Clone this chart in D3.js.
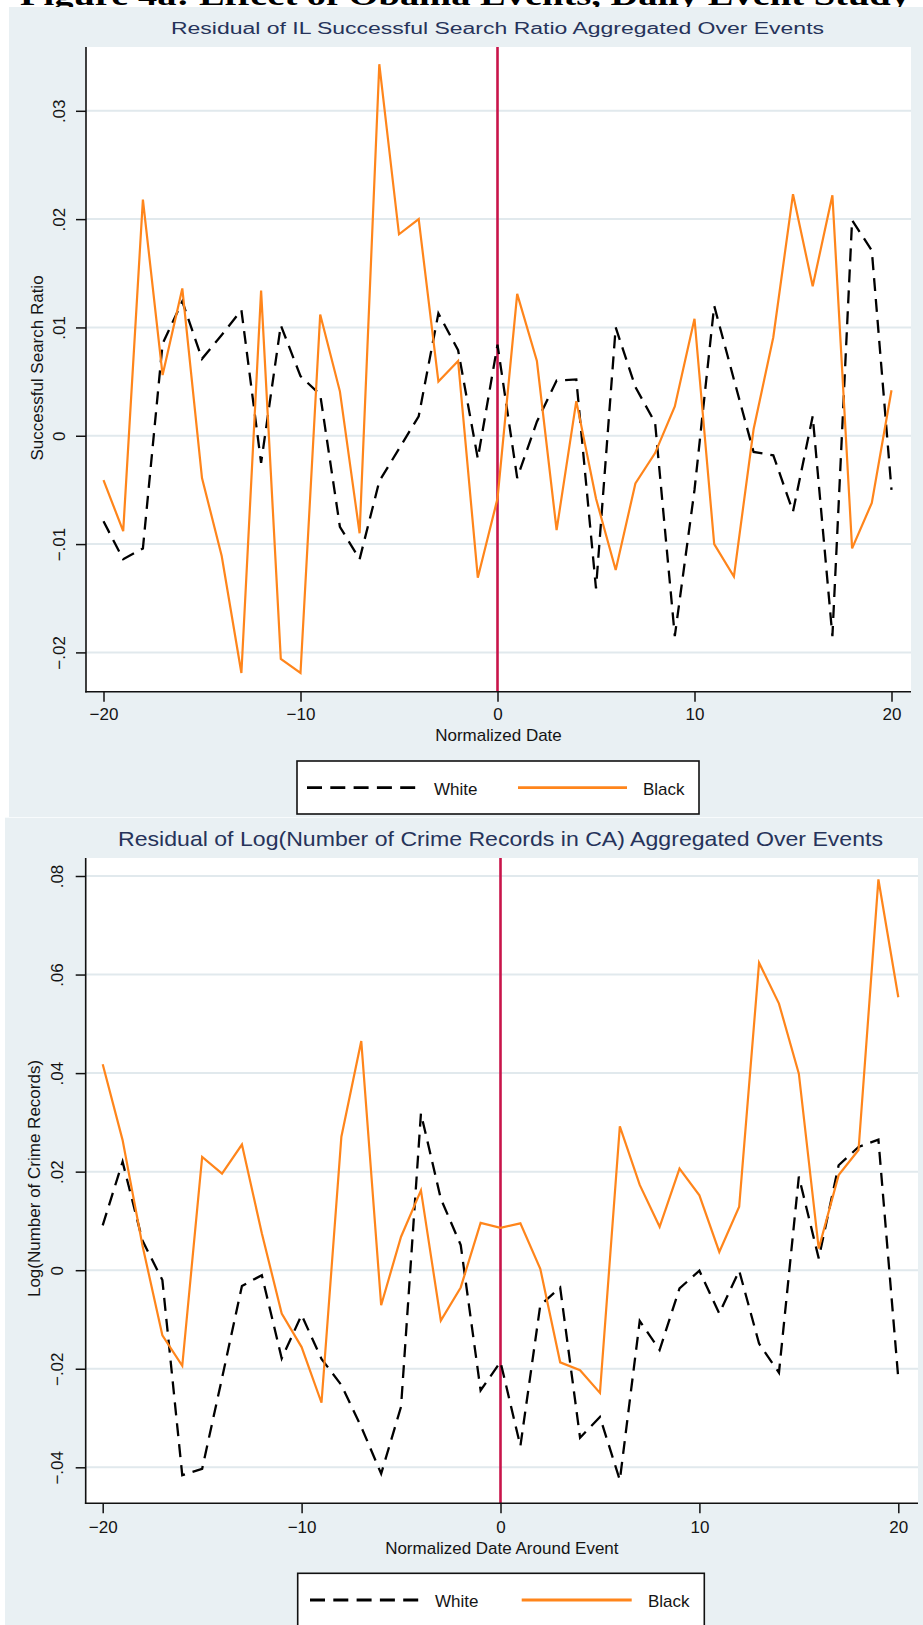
<!DOCTYPE html>
<html>
<head>
<meta charset="utf-8">
<script src="https://cdn.jsdelivr.net/npm/d3@7"></script>
<style>
	html, body { margin: 0; padding: 0; background: #fff; }
	svg { display: block; font-family: 'Liberation Sans', Arial, sans-serif; }
</style>
</head>
<body>
<svg id="chart" width="923" height="1625"></svg>
<script>
// ---- data ----
const days = d3.range(-20, 21);

const searchWhite = [
	-0.0079, -0.0114, -0.0104, 0.0085, 0.0124, 0.0071, 0.0093, 0.0116, -0.0025, 0.0102,
	0.0055, 0.0038, -0.0084, -0.0114, -0.0042, -0.0012, 0.0018, 0.0113, 0.0079, -0.0021,
	0.0084,
	-0.0039, 0.0013, 0.0051, 0.0052, -0.0141, 0.0100, 0.0045, 0.0012, -0.0185, -0.0050,
	0.0120, 0.0052, -0.0015, -0.0018, -0.0070, 0.0018, -0.0185, 0.0199, 0.0171, -0.0050,
];
const searchBlack = [
	-0.0041, -0.0088, 0.0218, 0.0056, 0.0136, -0.0039, -0.0111, -0.0219, 0.0134, -0.0206,
	-0.0219, 0.0112, 0.0041, -0.0090, 0.0343, 0.0186, 0.0200, 0.0050, 0.0069, -0.0131,
	-0.0058,
	0.0131, 0.0069, -0.0087, 0.0032, -0.0058, -0.0124, -0.0044, -0.0016, 0.0027, 0.0108,
	-0.0100, -0.0130, 0.0006, 0.0091, 0.0223, 0.0138, 0.0222, -0.0104, -0.0062, 0.0042,
];
const crimeWhite = [
	0.0091, 0.0220, 0.0060, -0.0020, -0.0416, -0.0403, -0.0219, -0.0032, -0.0010, -0.0179,
	-0.0091, -0.0180, -0.0233, -0.0318, -0.0413, -0.0277, 0.0318, 0.0145, 0.0051, -0.0244,
	-0.0186,
	-0.0357, -0.0071, -0.0035, -0.0340, -0.0298, -0.0426, -0.0103, -0.0162, -0.0037, -0.0001,
	-0.0088, -0.0001, -0.0149, -0.0208, 0.0190, 0.0024, 0.0213, 0.0250, 0.0265, -0.0220,
];
const crimeBlack = [
	0.0418, 0.0264, 0.0050, -0.0132, -0.0194, 0.0230, 0.0196, 0.0255, 0.0075, -0.0088,
	-0.0156, -0.0269, 0.0271, 0.0465, -0.0071, 0.0068, 0.0162, -0.0102, -0.0035, 0.0096,
	0.0086,
	0.0095, 0.0003, -0.0187, -0.0203, -0.0249, 0.0292, 0.0173, 0.0088, 0.0206, 0.0152,
	0.0037, 0.0129, 0.0624, 0.0541, 0.0399, 0.0044, 0.0193, 0.0244, 0.0793, 0.0554,
];

const dayTicks = [-20, -10, 0, 10, 20];
const searchTicks = [-0.02, -0.01, 0, 0.01, 0.02, 0.03];
const crimeTicks = [-0.04, -0.02, 0, 0.02, 0.04, 0.06, 0.08];
const seriesNames = ['White', 'Black'];

// ---- look ----
const theme = {
	bg: '#e9f0f3',
	grid: '#e1e9ed',
	orange: '#ff851b',
	red: '#c8144a',
	title: '#26335a',
	text: '#141414',
	axis: '#111',
};

// stata style labels: no leading zero
const fmtValue = (v) => (v === 0 ? '0' : d3.format('.2f')(v).replace('0.', '.'));

const panels = [
	{
		title: 'Residual of IL Successful Search Ratio Aggregated Over Events',
		titleX: 497.5, titleY: 34, titleSize: 16, titleLen: 653,
		bg: { x: 9, y: 7, w: 914, h: 810 },
		plot: { left: 86, right: 911, top: 47, bottom: 691.7 },
		xRange: [103.5, 891.5],
		yRange: [652.4, 110.8],
		yTicks: searchTicks,
		yTitle: 'Successful Search Ratio', yTitleX: 43, yTitleY: 368,
		yLabelGap: 21,
		xTitle: 'Normalized Date', xTitleY: 740.7,
		xLabelY: 720,
		white: searchWhite, black: searchBlack,
		legend: { x: 297, y: 761, w: 402, h: 53, lineY: 787.7, dash: [307, 418], whiteX: 434, solid: [518, 627], blackX: 643, textY: 795 },
	},
	{
		title: 'Residual of Log(Number of Crime Records in CA) Aggregated Over Events',
		titleX: 500.5, titleY: 846, titleSize: 21, titleLen: 765,
		bg: { x: 5, y: 817.7, w: 918, h: 810 },
		plot: { left: 85.7, right: 918, top: 858, bottom: 1503.3 },
		xRange: [102.7, 898.3],
		yRange: [1467.3, 876],
		yTicks: crimeTicks,
		yTitle: 'Log(Number of Crime Records)', yTitleX: 40, yTitleY: 1178.5,
		yLabelGap: 23,
		xTitle: 'Normalized Date Around Event', xTitleY: 1554,
		xLabelY: 1532.7,
		white: crimeWhite, black: crimeBlack,
		legend: { x: 297.7, y: 1573.3, w: 406.6, h: 60, lineY: 1600, dash: [310, 420], whiteX: 435, solid: [521.7, 631.7], blackX: 648, textY: 1606.7 },
	},
];

const svg = d3.select('#chart');

// cut-off figure heading at the very top
svg.append('text')
	.attr('x', 20)
	.attr('y', 5)
	.attr('textLength', 890)
	.attr('lengthAdjust', 'spacingAndGlyphs')
	.style('font-family', "'Liberation Serif', 'Times New Roman', serif")
	.style('font-weight', 'bold')
	.style('font-size', '30px')
	.style('fill', '#000')
	.text('Figure 4a: Effect of Obama Events, Daily Event Study');

const drawPanel = (p) => {
	const g = svg.append('g');
	const { left, right, top, bottom } = p.plot;

	g.append('rect')
		.attr('x', p.bg.x).attr('y', p.bg.y)
		.attr('width', p.bg.w).attr('height', p.bg.h)
		.attr('fill', theme.bg);

	g.append('rect')
		.attr('x', left).attr('y', top)
		.attr('width', right - left).attr('height', bottom - top)
		.attr('fill', '#fff');

	const x = d3.scaleLinear().domain([-20, 20]).range(p.xRange);
	const y = d3.scaleLinear().domain(d3.extent(p.yTicks)).range(p.yRange);

	// grid
	g.append('g')
		.selectAll('line')
		.data(p.yTicks)
		.join('line')
		.attr('x1', left)
		.attr('x2', right)
		.attr('y1', (d) => y(d))
		.attr('y2', (d) => y(d))
		.attr('stroke', theme.grid)
		.attr('stroke-width', 2);

	// event line
	g.append('line')
		.attr('x1', x(0)).attr('x2', x(0))
		.attr('y1', top).attr('y2', bottom)
		.attr('stroke', theme.red)
		.attr('stroke-width', 2.6);

	// series
	const line = d3.line()
		.x((d) => x(d.day))
		.y((d) => y(d.value));
	const toPoints = (vals) => days.map((day, i) => ({ day, value: vals[i] }));

	g.append('path')
		.datum(toPoints(p.white))
		.attr('fill', 'none')
		.attr('stroke', '#000')
		.attr('stroke-width', 2.3)
		.attr('stroke-dasharray', '13,8')
		.attr('stroke-linejoin', 'miter')
		.attr('d', line);

	g.append('path')
		.datum(toPoints(p.black))
		.attr('fill', 'none')
		.attr('stroke', theme.orange)
		.attr('stroke-width', 2.2)
		.attr('stroke-linejoin', 'miter')
		.attr('d', line);

	// y axis
	const yAxis = g.append('g')
		.attr('transform', `translate(${left},0)`)
		.call(d3.axisLeft(y).tickValues(p.yTicks).tickSize(10).tickFormat(fmtValue))
		.attr('font-size', null)
		.attr('font-family', null);
	yAxis.select('.domain').remove();
	yAxis.selectAll('.tick line').attr('stroke', theme.axis).attr('stroke-width', 1.5);
	yAxis.selectAll('.tick text')
		.attr('x', 0)
		.attr('y', -p.yLabelGap)
		.attr('dy', 0)
		.attr('transform', 'rotate(-90)')
		.attr('text-anchor', 'middle')
		.style('font-size', '17px')
		.style('fill', theme.text);

	// x axis
	const xAxis = g.append('g')
		.attr('transform', `translate(0,${bottom})`)
		.call(d3.axisBottom(x).tickValues(dayTicks).tickSize(10).tickFormat(d3.format('d')))
		.attr('font-size', null)
		.attr('font-family', null);
	xAxis.select('.domain').remove();
	xAxis.selectAll('.tick line').attr('stroke', theme.axis).attr('stroke-width', 1.5);
	xAxis.selectAll('.tick text')
		.attr('y', p.xLabelY - bottom)
		.attr('dy', 0)
		.style('font-size', '17px')
		.style('fill', theme.text);

	// axis lines
	g.append('line')
		.attr('x1', left).attr('x2', left)
		.attr('y1', top).attr('y2', bottom + 0.8)
		.attr('stroke', theme.axis).attr('stroke-width', 1.6);
	g.append('line')
		.attr('x1', left - 0.8).attr('x2', right)
		.attr('y1', bottom).attr('y2', bottom)
		.attr('stroke', theme.axis).attr('stroke-width', 1.6);

	// titles
	g.append('text')
		.attr('x', p.titleX)
		.attr('y', p.titleY)
		.attr('text-anchor', 'middle')
		.attr('textLength', p.titleLen)
		.attr('lengthAdjust', 'spacingAndGlyphs')
		.style('font-size', `${p.titleSize}px`)
		.style('fill', theme.title)
		.text(p.title);

	g.append('text')
		.attr('transform', `translate(${p.yTitleX},${p.yTitleY}) rotate(-90)`)
		.attr('text-anchor', 'middle')
		.style('font-size', '17px')
		.style('fill', theme.text)
		.text(p.yTitle);

	g.append('text')
		.attr('x', (left + right) / 2)
		.attr('y', p.xTitleY)
		.attr('text-anchor', 'middle')
		.style('font-size', '17px')
		.style('fill', theme.text)
		.text(p.xTitle);

	// legend
	const L = p.legend;
	const lg = g.append('g');
	lg.append('rect')
		.attr('x', L.x).attr('y', L.y)
		.attr('width', L.w).attr('height', L.h)
		.attr('fill', '#fff')
		.attr('stroke', '#111')
		.attr('stroke-width', 1.6);
	lg.append('line')
		.attr('x1', L.dash[0]).attr('x2', L.dash[1])
		.attr('y1', L.lineY).attr('y2', L.lineY)
		.attr('stroke', '#000')
		.attr('stroke-width', 2.8)
		.attr('stroke-dasharray', '15,8.3');
	lg.append('line')
		.attr('x1', L.solid[0]).attr('x2', L.solid[1])
		.attr('y1', L.lineY).attr('y2', L.lineY)
		.attr('stroke', theme.orange)
		.attr('stroke-width', 2.8);
	lg.selectAll('text.legend-label')
		.data(seriesNames)
		.join('text')
		.attr('class', 'legend-label')
		.attr('x', (d, i) => (i === 0 ? L.whiteX : L.blackX))
		.attr('y', L.textY)
		.style('font-size', '17px')
		.style('fill', theme.text)
		.text((d) => d);
};

panels.forEach(drawPanel);
</script>
</body>
</html>
